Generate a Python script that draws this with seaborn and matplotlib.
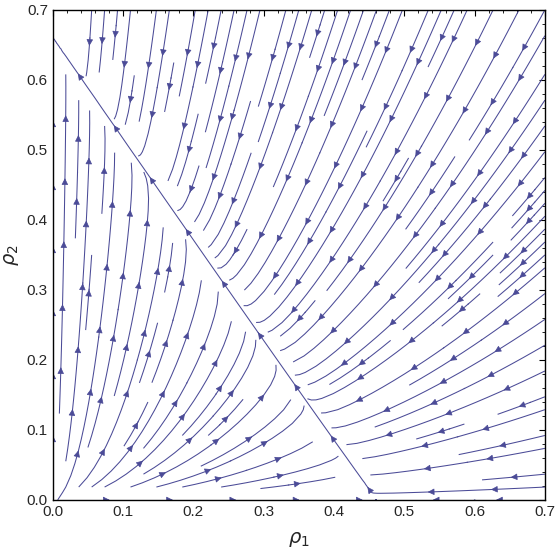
import numpy as np
import matplotlib
matplotlib.use("Agg")
import matplotlib.pyplot as plt
import seaborn as sns
from matplotlib.ticker import MultipleLocator
from matplotlib.patches import FancyArrowPatch

# === Model parameters (Lotka-Volterra type competition) ===
growth = [1.0, 2.0]          # r1, r2
capacity = [0.46, 0.66]      # K1, K2
coupling = [0.75, 1.40]      # alpha12, alpha21

# === Axis setup ===
x_range = [0.0, 0.7]
y_range = [0.0, 0.7]
tick_values = [0.0, 0.1, 0.2, 0.3, 0.4, 0.5, 0.6, 0.7]
tick_labels = ["0.0", "0.1", "0.2", "0.3", "0.4", "0.5", "0.6", "0.7"]

LINE_COLOR = "#4b4b97"
ARROW_GAP = 0.09   # arc length between arrow heads (data units)

sns.set_theme(style="white")
plt.rcParams["font.family"] = ["Liberation Sans", "DejaVu Sans"]

x = np.linspace(x_range[0], x_range[1], 300)
y = np.linspace(y_range[0], y_range[1], 300)
X, Y = np.meshgrid(x, y)

r1, r2 = growth
K1, K2 = capacity
a12, a21 = coupling
U = r1 * X * (1 - (X + a12 * Y) / K1)
V = r2 * Y * (1 - (Y + a21 * X) / K2)

fig = plt.figure(figsize=(5.56, 5.50), dpi=100)
ax = fig.add_axes([0.095, 0.091, 0.885, 0.891])

sp = ax.streamplot(X, Y, U, V, density=1.3, color=LINE_COLOR, linewidth=0.75,
                   arrowsize=0.01, arrowstyle="-", broken_streamlines=True)
# drop the single default arrows, put several along each line instead
sp.arrows.set_visible(False)

# === Rebuild streamlines from the collection ===
segs = sp.lines.get_segments()
paths = []
cur = None
for s in segs:
    s = np.asarray(s)
    if len(s) > 2:
        if cur is not None:
            paths.append(np.array(cur))
            cur = None
        paths.append(s)
        continue
    if cur is not None and np.allclose(cur[-1], s[0]):
        cur.append(s[1])
    else:
        if cur is not None:
            paths.append(np.array(cur))
        cur = [s[0], s[1]]
if cur is not None:
    paths.append(np.array(cur))

for p in paths:
    d = np.hypot(np.diff(p[:, 0]), np.diff(p[:, 1]))
    cum = np.concatenate([[0], np.cumsum(d)])
    total = cum[-1]
    if total < 0.03:
        continue
    n = max(1, int(total // ARROW_GAP))
    offset = (total - (n - 1) * ARROW_GAP) / 2
    for k in range(n):
        sk = offset + k * ARROW_GAP
        a = np.interp(sk - 0.004, cum, p[:, 0]), np.interp(sk - 0.004, cum, p[:, 1])
        b = np.interp(sk + 0.004, cum, p[:, 0]), np.interp(sk + 0.004, cum, p[:, 1])
        ax.add_patch(FancyArrowPatch(a, b, arrowstyle="-|>", mutation_scale=10,
                                     color=LINE_COLOR, lw=0.5,
                                     shrinkA=0, shrinkB=0))

ax.set_xlim(x_range)
ax.set_ylim(y_range)
ax.set_xticks(tick_values)
ax.set_xticklabels(tick_labels)
ax.set_yticks(tick_values)
ax.set_yticklabels(tick_labels)
ax.xaxis.set_minor_locator(MultipleLocator(0.02))
ax.yaxis.set_minor_locator(MultipleLocator(0.02))
ax.tick_params(which="both", direction="in", top=True, right=True,
               labelsize=11, color="black")
ax.tick_params(which="major", length=4, width=0.8)
ax.tick_params(which="minor", length=2, width=0.6)
for s in ax.spines.values():
    s.set_color("black")
    s.set_linewidth(1.0)

ax.set_xlabel(r"$\rho_1$", fontsize=14, family="DejaVu Serif", labelpad=8)
ax.set_ylabel(r"$\rho_2$", fontsize=14, family="DejaVu Serif", labelpad=4)

plt.savefig("out.png", dpi=100)
